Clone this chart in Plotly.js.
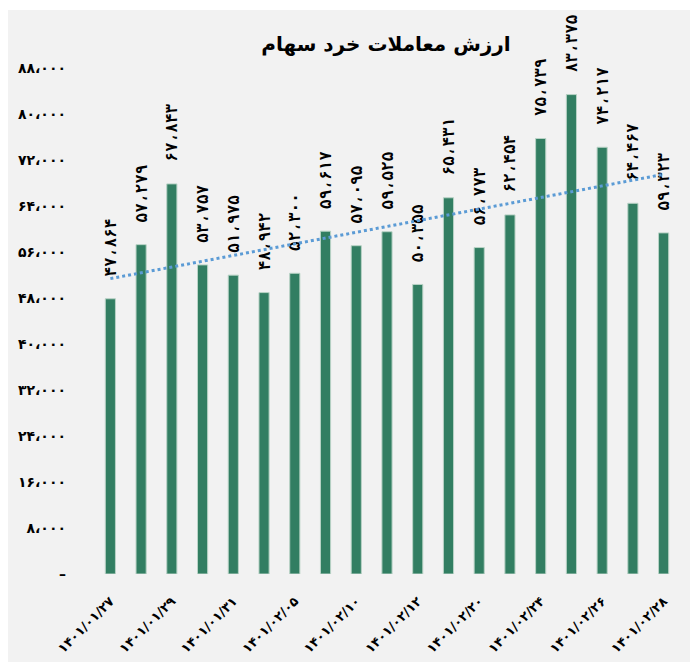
<!DOCTYPE html>
<html>
<head>
<meta charset="utf-8">
<script src="https://cdn.plot.ly/plotly-3.0.1.min.js"></script>
<style>html,body{margin:0;padding:0;background:#fff;}#chart{width:690px;height:662px;}</style>
</head>
<body>
<div id="chart"></div>
<script>
const categories = [
  "۱۴۰۱/۰۱/۲۷","۱۴۰۱/۰۱/۲۸","۱۴۰۱/۰۱/۲۹","۱۴۰۱/۰۱/۳۰","۱۴۰۱/۰۱/۳۱",
  "۱۴۰۱/۰۲/۰۴","۱۴۰۱/۰۲/۰۵","۱۴۰۱/۰۲/۰۶","۱۴۰۱/۰۲/۱۰","۱۴۰۱/۰۲/۱۱",
  "۱۴۰۱/۰۲/۱۲","۱۴۰۱/۰۲/۱۹","۱۴۰۱/۰۲/۲۰","۱۴۰۱/۰۲/۲۱","۱۴۰۱/۰۲/۲۴",
  "۱۴۰۱/۰۲/۲۵","۱۴۰۱/۰۲/۲۶","۱۴۰۱/۰۲/۲۷","۱۴۰۱/۰۲/۲۸"
];
const values = [47864, 57279, 67843, 53757, 51975, 48942, 52300, 59617, 57095, 59525,
                50355, 65431, 56773, 62454, 75739, 83375, 74217, 64467, 59323];
const shownTicks = [
  "۱۴۰۱/۰۱/۲۷","۱۴۰۱/۰۱/۲۹","۱۴۰۱/۰۱/۳۱","۱۴۰۱/۰۲/۰۵","۱۴۰۱/۰۲/۱۰",
  "۱۴۰۱/۰۲/۱۲","۱۴۰۱/۰۲/۲۰","۱۴۰۱/۰۲/۲۴","۱۴۰۱/۰۲/۲۶","۱۴۰۱/۰۲/۲۸"
];
const yTickVals = [0, 8000, 16000, 24000, 32000, 40000, 48000, 56000, 64000, 72000, 80000, 88000];
const yTickText = ["–","۸،۰۰۰","۱۶،۰۰۰","۲۴،۰۰۰","۳۲،۰۰۰","۴۰،۰۰۰","۴۸،۰۰۰","۵۶،۰۰۰","۶۴،۰۰۰","۷۲،۰۰۰","۸۰،۰۰۰","۸۸،۰۰۰"];
const title = "ارزش معاملات خرد سهام";

const fa = d => String(d).replace(/[0-9]/g, c => "۰۱۲۳۴۵۶۷۸۹"[+c]);
const fmt = v => "\u00a0\u00a0" + fa(v.toLocaleString("en-US")).replace(/,/g, "،");

// linear trendline (least squares) from the data
const n = values.length;
const xs = values.map((_, i) => i + 1);
const mx = xs.reduce((a, b) => a + b, 0) / n;
const my = values.reduce((a, b) => a + b, 0) / n;
let sxy = 0, sxx = 0;
for (let i = 0; i < n; i++) { sxy += (xs[i] - mx) * (values[i] - my); sxx += (xs[i] - mx) ** 2; }
const slope = sxy / sxx;
const trend = xs.map(x => my + slope * (x - mx));

const font = "DejaVu Sans, sans-serif";

const data = [
  {
    type: "bar",
    x: categories,
    y: values,
    marker: { color: "#327e62", line: { color: "#b9d3c6", width: 1 } },
    text: values.map(fmt),
    textposition: "outside",
    textangle: -90,
    constraintext: "none",
    cliponaxis: false,
    textfont: { family: "DejaVu Sans Mono, DejaVu Sans, monospace", size: 16, color: "#000", weight: "bold" },
    hoverinfo: "skip"
  },
  {
    type: "scatter",
    mode: "lines",
    x: categories,
    y: trend,
    line: { color: "#5b9bd5", width: 3, dash: "dot" },
    hoverinfo: "skip"
  }
];

const layout = {
  width: 690,
  height: 662,
  margin: { l: 95, r: 11, t: 68, b: 88 },
  paper_bgcolor: "#ffffff",
  plot_bgcolor: "rgba(0,0,0,0)",
  showlegend: false,
  bargap: 0.67,
  title: {
    text: "<b>" + title + "</b>",
    font: { family: font, size: 20, color: "#000" },
    x: 386 / 690, xref: "container", xanchor: "center",
    y: 1 - 44 / 662, yref: "container", yanchor: "middle"
  },
  xaxis: {
    type: "category",
    categoryorder: "array",
    categoryarray: categories,
    tickvals: shownTicks,
    ticktext: shownTicks,
    tickangle: -45,
    tickfont: { family: font, size: 13, color: "#000", weight: "bold" },
    showgrid: false, zeroline: false, showline: false, ticks: "",
    ticklabelstandoff: 16
  },
  yaxis: {
    range: [0, 88000],
    tickvals: yTickVals,
    ticktext: yTickText,
    tickfont: { family: font, size: 14, color: "#000", weight: "bold" },
    showgrid: false, zeroline: false, showline: false, ticks: "",
    ticklabelstandoff: 28
  },
  shapes: [{
    type: "rect", layer: "below", xref: "paper", yref: "paper",
    x0: (8 - 95) / 584, x1: (690 - 95) / 584 + 0.05,
    y0: (574 - 662) / 506 - 0.05, y1: (574 - 10) / 506,
    fillcolor: "#f2f2f2", line: { width: 0 }
  }]
};

Plotly.newPlot("chart", data, layout, { displayModeBar: false, staticPlot: true });
</script>
</body>
</html>
